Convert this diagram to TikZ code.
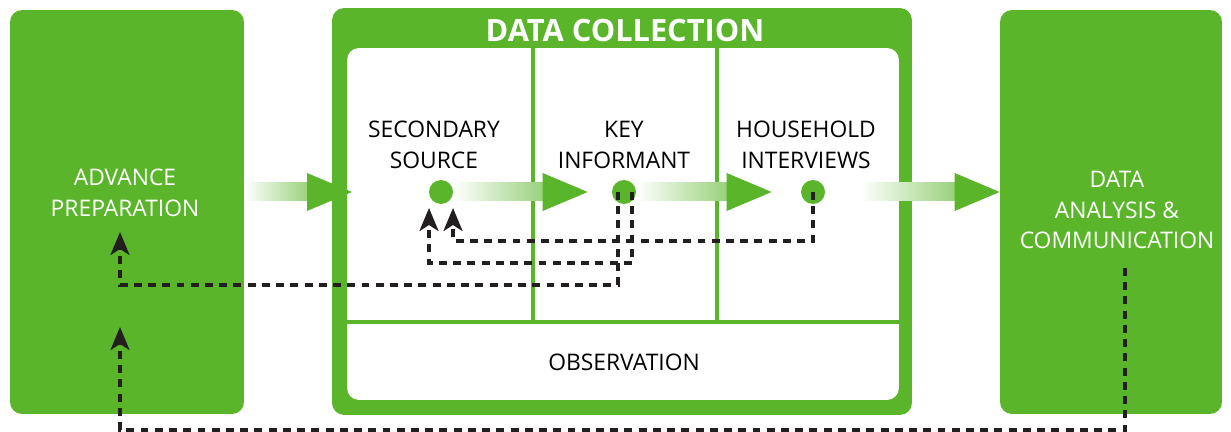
\documentclass[tikz,border=0pt]{standalone}
\usepackage{fontspec}
\setmainfont{Open Sans}
\usetikzlibrary{arrows.meta, calc, positioning}

\definecolor{leafgreen}{RGB}{91,181,43}
\definecolor{inkblack}{RGB}{35,31,32}

% shaded shaft plus solid head, from #1 to the tip #2
\newcommand{\flowarrow}[2]{%
  \shade[left color=white, right color=leafgreen!65]
    ($(#1)+(0,-9)$) rectangle ($(#2)+(-40,9)$);
  \fill[leafgreen] ($(#2)+(-45,-19)$) -- (#2) -- ($(#2)+(-45,19)$) -- cycle;}

\begin{document}
\begin{tikzpicture}[
x=0.02cm, y=-0.02cm,
greenbox/.style={rectangle, rounded corners=0.24cm, fill=leafgreen, minimum height=8.08cm},
label/.style={align=center, font=\fontsize{13}{17.6}\selectfont},
dot/.style={circle, fill=leafgreen, minimum size=0.48cm, inner sep=0pt},
divider/.style={leafgreen, line width=1.9pt},
dashline/.style={inkblack, line width=1.9pt, dash pattern=on 4.5pt off 3.6pt,
  -{Stealth[length=0.46cm, width=0.38cm, inset=0.12cm]}}
]
\useasboundingbox (0,0) rectangle (1231,432);

% outer blocks
\node[greenbox, minimum width=4.68cm] (prep) at (127,212) {};
\node[greenbox, minimum width=11.6cm, minimum height=8.14cm] (collect) at (622,211.5) {};
\node[rectangle, rounded corners=0.24cm, fill=white, minimum width=11.04cm,
  minimum height=7.04cm] (inner) at (623,224) {};
\node[greenbox, minimum width=4.44cm] (dac) at (1111,212) {};

\node[font=\fontsize{17.5}{20}\selectfont\bfseries, text=white] (title) at (625,31) {DATA COLLECTION};

% cells of the collection block
\draw[divider] (inner.west |- 0,322) -- (inner.east |- 0,322);
\draw[divider] (533,0 |- inner.north) -- (533,322);
\draw[divider] (717,0 |- inner.north) -- (717,322);

\node[label, text=white] (preptext) at (125,193) {ADVANCE\\PREPARATION};
\node[label, text=white] (dactext) at (1117,210) {DATA\\ANALYSIS \&\\COMMUNICATION};
\node[label] (srctext) at (434,145) {SECONDARY\\SOURCE};
\node[label] (kitext) at (624,145) {KEY\\INFORMANT};
\node[label] (hhtext) at (806,145) {HOUSEHOLD\\INTERVIEWS};
\node[label] (obstext) at (624,362) {OBSERVATION};

\node[dot] (src) at (441,192) {};
\node[dot] (ki) at (624,192) {};
\node[dot] (hh) at (813,192) {};

% flow arrows
\coordinate (prepout) at (prep.east |- src);
\coordinate (collectin) at (352,192);
\coordinate (kiin) at ([xshift=-0.48cm]ki.west);
\coordinate (hhin) at ([xshift=-0.58cm]hh.west);
\coordinate (hhout) at ([xshift=0.7cm]hh.east);
\coordinate (dacin) at (dac.west |- hh);
\flowarrow{prepout}{collectin}
\flowarrow{src.east}{kiin}
\flowarrow{ki.east}{hhin}
\flowarrow{hhout}{dacin}

% feedback loops
\coordinate (srcin1) at (429,208);
\coordinate (srcin2) at (453,208);
\coordinate (prepin1) at (120,232);
\coordinate (prepin2) at (120,327);
\coordinate (dacout) at (1125,268);
\draw[dashline] ([xshift=-0.12cm]ki.center) -- ++(0,93) -| (prepin1);
\draw[dashline] ([xshift=0.16cm]ki.center) -- ++(0,71) -| (srcin1);
\draw[dashline] (hh.center) -- ++(0,49) -| (srcin2);
\draw[dashline] (dacout) -- ++(0,162) -| (prepin2);

\end{tikzpicture}
\end{document}
